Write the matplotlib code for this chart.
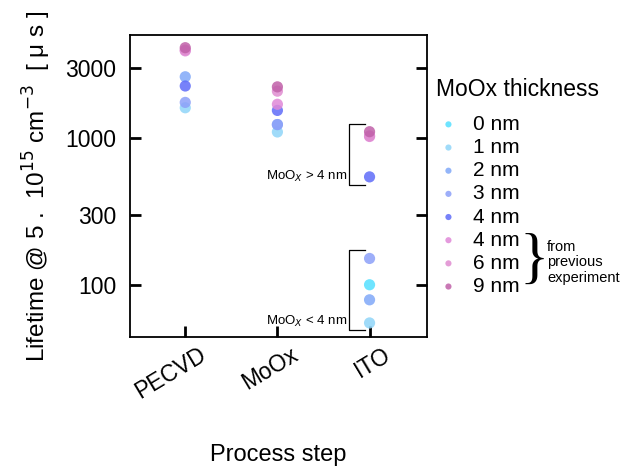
import matplotlib
matplotlib.use('Agg')
import matplotlib.pyplot as plt
from matplotlib.transforms import ScaledTranslation

plt.rcParams['font.family'] = ['Liberation Sans', 'DejaVu Sans']

# process steps on the x axis
steps = ['PECVD', 'MoOx', 'ITO']

# series: MoOx thickness label, colour, lifetime per step (us)
labels = ['0 nm', '1 nm', '2 nm', '3 nm', '4 nm', '4 nm', '6 nm', '9 nm']
colors = ['#55e0ff', '#90d5f8', '#80a8f8', '#8ca0f8', '#5f6cf8', '#e088d8', '#e08cd0', '#c060a8']
pecvd = [None, 1600, 2600, 1740, 2250, 3900, 3950, 4100]
moox = [None, 1095, 1230, 1230, 1535, 1690, 2075, 2220]
ito = [100, 55, 79, 151, 542, 1020, 1030, 1100]

# bracket ranges (lifetime) on the ITO column
bracket_hi = [476, 1250]
bracket_lo = [49, 173]

fig = plt.figure(figsize=(6.34, 4.67), dpi=100)
ax = fig.add_axes([0.205, 0.278, 0.468, 0.647])

for i in range(len(labels)):
    xs, ys = [], []
    for j, vals in enumerate([pecvd, moox, ito]):
        if vals[i] is not None:
            xs.append(j + 1)
            ys.append(vals[i])
    ax.scatter(xs, ys, s=65, color=colors[i], alpha=0.85, edgecolors='none', label=labels[i], zorder=3)

ax.set_yscale('log')
ax.set_ylim(44, 5000)
ax.set_xlim(0.4, 3.62)
ax.set_yticks([100, 300, 1000, 3000])
ax.set_yticklabels(['100', '300', '1000', '3000'])
ax.minorticks_off()
ax.set_xticks([1, 2, 3])
ax.set_xticklabels(steps, rotation=31, ha='right', rotation_mode='anchor', fontsize=16.5)
ax.tick_params(axis='both', direction='in', length=8, width=2, labelsize=16.5)
ax.tick_params(axis='y', right=True, pad=10)
ax.tick_params(axis='x', pad=4)
shift = ScaledTranslation(13 / 100, 0, fig.dpi_scale_trans)
for lab in ax.get_xticklabels():
    lab.set_transform(lab.get_transform() + shift)
for sp in ax.spines.values():
    sp.set_linewidth(1.3)

ax.set_ylabel('Lifetime @ 5 .  10$^{15}$ cm$^{-3}$  [ \u03bc s ]', fontsize=17.5)
ax.yaxis.set_label_coords(-0.258, 0.5)
ax.set_xlabel('Process step', fontsize=17)
ax.xaxis.set_label_coords(0.5, -0.355)

# brackets around the ITO groups
bx0, bx1 = 2.78, 2.95
for lo, hi in [bracket_hi, bracket_lo]:
    ax.plot([bx1, bx0, bx0, bx1], [hi, hi, lo, lo], color='black', lw=0.9, zorder=2)
ax.text(bx0 - 0.02, 545, 'MoO$_X$ > 4 nm', ha='right', va='center', fontsize=9.5)
ax.text(bx0 - 0.02, 56, 'MoO$_X$ < 4 nm', ha='right', va='center', fontsize=9.5)

leg = ax.legend(title='MoOx thickness', loc='upper left', bbox_to_anchor=(0.968, 0.92),
                frameon=False, fontsize=15, title_fontsize=16.5, markerscale=0.55,
                handletextpad=0.6, labelspacing=0.2, handlelength=1.2)
leg._legend_box.align = 'left'
leg._legend_box.sep = 10

fig.text(0.82, 0.438, '}', fontsize=44, family='Liberation Serif', ha='left', va='center')
fig.text(0.863, 0.438, 'from\nprevious\nexperiment', fontsize=10.5, ha='left', va='center', linespacing=1.15)

fig.savefig('out.png', dpi=100)
